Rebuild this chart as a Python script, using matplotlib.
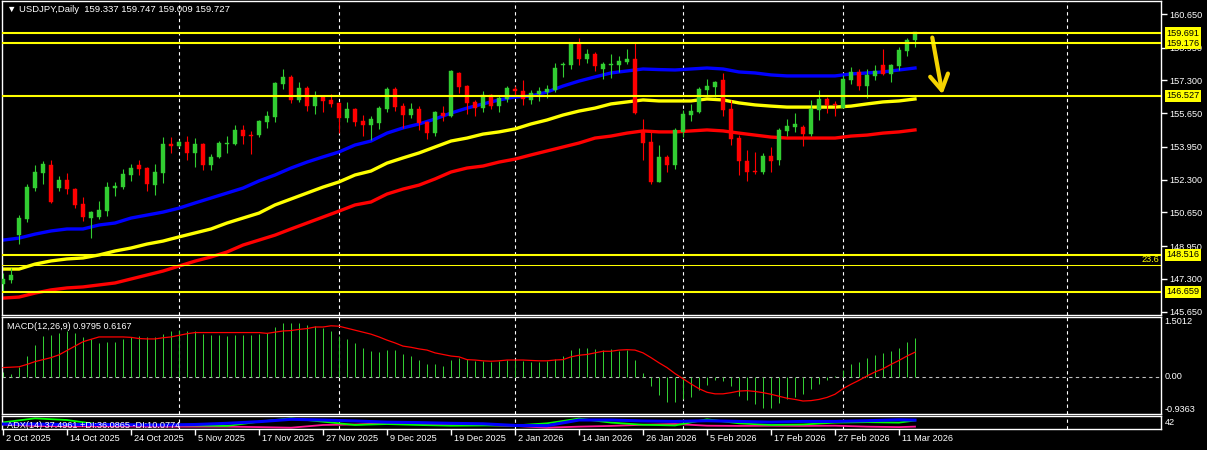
import numpy as np
import matplotlib
matplotlib.use('Agg')
import matplotlib.pyplot as plt
from matplotlib.transforms import blended_transform_factory

plt.rcParams['font.family'] = ['Liberation Sans', 'DejaVu Sans']

# daily candles, 2 Oct 2025 .. 13 Mar 2026
OPEN = [147.05, 147.25, 149.52, 150.32, 151.88, 152.64, 153.04, 151.88, 152.29, 151.83,
        151.08, 150.37, 150.42, 150.72, 151.88, 151.93, 152.54, 153.04, 152.89, 152.03,
        152.64, 154.10, 154.00, 154.20, 153.65, 154.10, 153.04, 153.45, 154.10, 154.10,
        154.80, 154.55, 154.55, 155.21, 155.46, 157.12, 157.48, 156.32, 156.92, 156.01,
        156.47, 156.32, 156.17, 155.41, 155.86, 155.26, 155.06, 155.16, 155.86, 156.87,
        156.01, 155.56, 155.86, 155.21, 154.65, 155.66, 155.51, 157.68, 157.02, 156.22,
        155.91, 156.57, 156.01, 156.37, 156.87, 156.77, 156.32, 156.62, 156.72, 156.82,
        158.08, 158.08, 159.14, 158.38, 158.63, 157.88, 158.08, 158.08, 158.23, 158.38,
        154.75, 154.20, 152.19, 153.45, 153.04, 154.70, 155.56, 155.71, 156.82, 156.97,
        157.32, 155.86, 154.40, 153.24, 152.74, 152.69, 153.50, 153.29, 154.75, 154.96,
        154.96, 154.60, 155.81, 156.37, 156.11, 155.91, 157.32, 157.73, 157.02, 157.53,
        158.08, 157.63, 158.03, 158.79, 159.337]
HIGH = [147.60, 147.85, 150.52, 152.08, 153.04, 153.24, 153.29, 152.49, 152.64, 151.88,
        151.43, 150.72, 151.23, 152.19, 152.19, 152.84, 153.09, 153.29, 152.94, 153.09,
        154.45, 154.45, 154.30, 154.50, 154.40, 154.15, 153.60, 154.25, 154.50, 155.06,
        155.06, 154.75, 155.31, 155.76, 157.22, 157.88, 157.58, 157.22, 157.02, 156.77,
        156.52, 156.62, 156.22, 156.22, 155.91, 155.56, 155.51, 156.01, 156.97, 156.97,
        156.17, 156.17, 156.01, 155.26, 155.76, 156.01, 157.83, 157.73, 157.07, 156.32,
        156.77, 156.62, 156.57, 157.02, 157.02, 157.32, 156.82, 156.97, 157.07, 158.18,
        158.23, 159.19, 159.44, 158.89, 158.74, 158.23, 158.63, 158.53, 158.89, 159.24,
        155.36, 154.75, 154.05, 153.55, 154.91, 155.81, 156.11, 156.97, 157.38, 157.27,
        157.68, 156.32, 154.55, 153.80, 153.70, 153.65, 153.95, 154.91, 155.36, 155.66,
        155.06, 156.32, 156.82, 156.47, 156.27, 157.58, 157.98, 157.88, 157.88, 158.08,
        158.89, 158.13, 158.99, 159.44, 159.747]
LOW = [146.64, 147.10, 149.06, 150.17, 151.73, 152.08, 151.13, 151.73, 151.58, 150.88,
       150.22, 149.36, 150.32, 150.47, 151.48, 151.83, 152.24, 152.54, 151.73, 151.53,
       152.14, 153.65, 153.95, 153.29, 152.94, 152.79, 152.79, 153.40, 153.65, 154.05,
       154.10, 153.60, 154.45, 154.91, 155.21, 156.87, 156.17, 156.22, 155.76, 155.61,
       155.71, 155.96, 154.65, 155.21, 155.01, 154.50, 154.30, 154.86, 155.71, 155.76,
       154.91, 155.41, 154.80, 154.35, 154.50, 155.26, 155.46, 156.67, 155.61, 155.51,
       155.71, 155.86, 155.71, 156.22, 156.52, 156.07, 156.11, 156.27, 156.42, 156.72,
       157.48, 157.88, 158.08, 158.18, 157.78, 157.38, 157.42, 157.73, 158.13, 155.61,
       153.29, 152.08, 152.19, 152.69, 152.84, 154.45, 155.26, 155.66, 156.52, 156.47,
       155.51, 154.05, 152.54, 152.24, 152.59, 152.59, 152.69, 153.04, 154.50, 154.70,
       154.00, 154.50, 155.31, 155.66, 155.51, 155.91, 157.12, 156.82, 156.42, 157.32,
       157.58, 157.22, 157.83, 158.53, 159.009]
CLOSE = [147.30, 147.50, 150.37, 151.93, 152.69, 153.09, 151.18, 152.29, 151.83, 151.03,
         150.42, 150.67, 150.77, 151.93, 151.98, 152.59, 152.89, 152.84, 152.08, 152.69,
         154.10, 154.00, 154.20, 153.65, 154.10, 153.04, 153.45, 154.15, 154.15, 154.80,
         154.50, 154.50, 155.26, 155.51, 157.17, 157.48, 156.32, 156.92, 156.01, 156.47,
         156.27, 156.11, 155.41, 155.86, 155.21, 155.06, 155.36, 155.91, 156.87, 155.96,
         155.56, 155.86, 155.16, 154.65, 155.71, 155.51, 157.78, 156.97, 156.17, 155.91,
         156.57, 156.01, 156.42, 156.92, 156.77, 156.37, 156.67, 156.77, 156.87, 157.93,
         158.13, 159.14, 158.38, 158.63, 158.03, 158.13, 158.13, 158.28, 158.38, 155.66,
         154.15, 152.19, 153.45, 153.04, 154.80, 155.61, 155.76, 156.87, 157.02, 157.22,
         155.81, 154.35, 153.24, 152.69, 152.69, 153.50, 153.24, 154.80, 155.01, 155.11,
         154.60, 155.86, 156.37, 156.07, 156.07, 157.38, 157.73, 157.02, 157.58, 157.78,
         157.63, 158.08, 158.84, 159.34, 159.727]

# moving averages, read every second bar
MA_BLUE = [149.26, 149.36, 149.56, 149.72, 149.82, 149.82, 150.02, 150.12, 150.37, 150.52,
           150.67, 150.87, 151.13, 151.38, 151.63, 151.88, 152.24, 152.54, 152.89, 153.19,
           153.45, 153.70, 154.05, 154.25, 154.65, 154.91, 155.11, 155.36, 155.66, 155.91,
           156.12, 156.32, 156.47, 156.52, 156.72, 157.02, 157.27, 157.48, 157.68, 157.78,
           157.88, 157.85, 157.83, 157.88, 157.93, 157.88, 157.73, 157.68, 157.58, 157.53,
           157.53, 157.53, 157.53, 157.63, 157.68, 157.73, 157.83, 157.93]
MA_YELLOW = [147.80, 147.80, 148.05, 148.21, 148.31, 148.36, 148.51, 148.71, 148.86, 149.06,
             149.21, 149.42, 149.62, 149.82, 150.12, 150.37, 150.62, 151.03, 151.33, 151.63,
             151.93, 152.19, 152.54, 152.74, 153.14, 153.40, 153.65, 153.95, 154.25, 154.40,
             154.60, 154.71, 154.86, 155.11, 155.31, 155.56, 155.76, 155.91, 156.12, 156.22,
             156.32, 156.27, 156.27, 156.27, 156.37, 156.32, 156.17, 156.07, 156.01, 155.96,
             155.96, 155.96, 155.96, 156.01, 156.12, 156.22, 156.27, 156.37]
MA_RED = [146.34, 146.39, 146.59, 146.75, 146.85, 146.90, 147.00, 147.10, 147.30, 147.50,
          147.70, 147.95, 148.20, 148.41, 148.66, 149.01, 149.26, 149.51, 149.82, 150.12,
          150.42, 150.72, 151.03, 151.18, 151.58, 151.83, 152.03, 152.34, 152.69, 152.89,
          152.99, 153.19, 153.34, 153.55, 153.75, 153.95, 154.15, 154.40, 154.50, 154.65,
          154.76, 154.71, 154.71, 154.76, 154.81, 154.76, 154.65, 154.55, 154.45, 154.40,
          154.40, 154.40, 154.40, 154.50, 154.55, 154.65, 154.71, 154.81]

MACD_HIST = [0.12, 0.06, 0.24, 0.51, 0.79, 1.02, 1.05, 1.11, 1.14, 1.10,
             0.99, 0.95, 0.84, 0.87, 0.87, 0.94, 1.01, 1.03, 1.01, 0.99,
             1.08, 1.14, 1.18, 1.16, 1.16, 1.07, 1.04, 1.04, 1.02, 1.04,
             1.04, 1.06, 1.07, 1.09, 1.24, 1.34, 1.34, 1.36, 1.30, 1.27,
             1.22, 1.14, 1.02, 0.94, 0.84, 0.72, 0.64, 0.63, 0.66, 0.66,
             0.56, 0.51, 0.43, 0.31, 0.31, 0.28, 0.43, 0.48, 0.45, 0.39,
             0.39, 0.37, 0.39, 0.42, 0.42, 0.39, 0.38, 0.37, 0.39, 0.45,
             0.52, 0.66, 0.71, 0.73, 0.70, 0.66, 0.69, 0.64, 0.66, 0.41,
             0.10, -0.24, -0.46, -0.63, -0.63, -0.57, -0.50, -0.34, -0.21, -0.08,
             -0.11, -0.24, -0.49, -0.59, -0.68, -0.78, -0.78, -0.67, -0.57, -0.50,
             -0.44, -0.32, -0.17, -0.07, 0.02, 0.16, 0.31, 0.37, 0.46, 0.54,
             0.60, 0.64, 0.73, 0.87, 0.9795]
MACD_SIGNAL = [0.23, 0.24, 0.25, 0.31, 0.38, 0.43, 0.48, 0.55, 0.66, 0.77,
               0.88, 0.94, 1.00, 1.00, 1.00, 1.00, 0.99, 0.96, 0.95, 0.95,
               0.98, 1.00, 1.04, 1.08, 1.11, 1.11, 1.11, 1.11, 1.11, 1.11,
               1.11, 1.11, 1.11, 1.09, 1.12, 1.15, 1.16, 1.19, 1.21, 1.25,
               1.25, 1.28, 1.27, 1.22, 1.17, 1.12, 1.07, 1.00, 0.92, 0.85,
               0.77, 0.74, 0.70, 0.67, 0.60, 0.56, 0.52, 0.50, 0.43, 0.42,
               0.40, 0.39, 0.40, 0.42, 0.42, 0.42, 0.41, 0.40, 0.40, 0.42,
               0.43, 0.50, 0.54, 0.56, 0.60, 0.64, 0.64, 0.67, 0.68, 0.67,
               0.60, 0.48, 0.35, 0.23, 0.08, -0.05, -0.18, -0.30, -0.39, -0.43,
               -0.43, -0.40, -0.36, -0.35, -0.37, -0.40, -0.44, -0.49, -0.54, -0.57,
               -0.61, -0.60, -0.57, -0.52, -0.44, -0.30, -0.19, -0.09, 0.02, 0.12,
               0.20, 0.31, 0.41, 0.52, 0.6167]

# ADX(14), read every fourth bar plus the last one
ADX_MAIN = [21, 21, 19, 19, 18, 17, 19, 24, 31, 41, 38, 34, 29, 27, 24,
            22, 15, 14, 38, 38, 34, 32, 35, 32, 29, 32, 32, 35, 39, 37.4961]
PLUS_DI = [28, 45, 38, 19, 17, 17, 15, 13, 31, 45, 31, 17, 21, 17, 14,
           15, 15, 24, 44, 27, 18, 15, 41, 24, 17, 19, 27, 29, 27, 36.0865]
MINUS_DI = [19, 13, 11, 11, 11, 10, 10, 10, 8, 5.5, 17, 19, 24, 21, 19,
            17, 13, 5.5, 10, 13, 18, 21, 14, 13, 14, 13, 14, 10, 8, 10.0774]

LEVELS = [159.691, 159.176, 156.527, 148.516, 146.659]
FIB_236 = 148.00
PRICE_TICKS = [160.650, 158.950, 157.300, 155.650, 153.950, 152.300, 150.650, 148.950, 147.300, 145.650]
DATE_LABELS = ['2 Oct 2025', '14 Oct 2025', '24 Oct 2025', '5 Nov 2025', '17 Nov 2025',
               '27 Nov 2025', '9 Dec 2025', '19 Dec 2025', '2 Jan 2026', '14 Jan 2026',
               '26 Jan 2026', '5 Feb 2026', '17 Feb 2026', '27 Feb 2026', '11 Mar 2026']
GRID_BARS = [22, 42, 64, 85, 105, 133]

GREEN = '#32cd32'
RED = '#ff0000'
YELLOW = '#ffff00'
FS = 6.6

W, H = 1207, 450
fig = plt.figure(figsize=(W / 100, H / 100), dpi=100, facecolor='black')


def panel(top, bottom):
    return fig.add_axes([2 / W, 1 - bottom / H, 1159 / W, (bottom - top) / H])


ax = panel(1, 315)
macd = panel(317, 414)
adx = panel(416, 429)

for a in (ax, macd, adx):
    a.set_facecolor('black')
    for s in a.spines.values():
        s.set_color('white')
        s.set_linewidth(1)
    a.set_xlim(-0.125, 144.75)
    a.set_xticks([])
    a.set_yticks([])
    for g in GRID_BARS:
        a.axvline(g, color='white', lw=0.8, ls=(0, (3, 3)), zorder=0.5)

# ---- price panel
o, h, l, c = map(np.array, (OPEN, HIGH, LOW, CLOSE))
x = np.arange(len(o))
col = np.where(c >= o, GREEN, RED)
ax.vlines(x, l, h, colors=col, lw=0.8, zorder=3)
ax.bar(x, np.maximum(np.abs(c - o), 0.03), bottom=np.minimum(o, c), width=0.62,
       color=col, edgecolor=col, lw=0.3, zorder=3)

xm = np.arange(0, len(o), 2)
ax.plot(xm, MA_RED, color=RED, lw=2.4, zorder=2)
ax.plot(xm, MA_YELLOW, color=YELLOW, lw=2.4, zorder=2)
ax.plot(xm, MA_BLUE, color='#0000ff', lw=2.4, zorder=2)

for lv in LEVELS:
    ax.axhline(lv, color=YELLOW, lw=1.5, zorder=4)
ax.axhline(FIB_236, color=YELLOW, lw=0.75, zorder=4)
ax.text(0.9983, FIB_236 + 0.08, '23.6', color=YELLOW, fontsize=FS, ha='right', va='bottom',
        transform=blended_transform_factory(ax.transAxes, ax.transData))

ax.set_ylim(145.486, 161.305)
ax.yaxis.tick_right()
ax.set_yticks(PRICE_TICKS)
ax.set_yticklabels(['%.3f' % p for p in PRICE_TICKS])
ax.tick_params(axis='y', colors='white', length=4, width=1, labelsize=FS, pad=2)

tr = blended_transform_factory(ax.transAxes, ax.transData)
for lv in LEVELS:
    ax.text(1.0045, lv, '%.3f' % lv, transform=tr, color='black', fontsize=FS,
            ha='left', va='center', zorder=6, clip_on=False,
            bbox=dict(boxstyle='square,pad=0.18', fc=YELLOW, ec='none'))

ax.annotate('', xy=(117.5, 156.47), xytext=(116.1, 159.6),
            arrowprops=dict(arrowstyle='->,head_length=1.1,head_width=0.65',
                            color='#f5d300', lw=3))

fig.text(7 / W, 1 - 10 / H, '\u25bc USDJPY,Daily  159.337 159.747 159.009 159.727',
         color='white', fontsize=6.8, va='center', ha='left')

# ---- MACD panel
macd.set_ylim(-0.9363, 1.5012)
macd.axhline(0, color='#c0c0c0', lw=0.8, ls=(0, (3, 3)), zorder=1)
macd.vlines(x, 0, MACD_HIST, colors=GREEN, lw=0.72, zorder=2, snap=True)
macd.plot(x, MACD_SIGNAL, color=RED, lw=0.9, zorder=3)
macd.text(5 / 1159, 0.907, 'MACD(12,26,9) 0.9795 0.6167', color='white', fontsize=FS,
          transform=macd.transAxes, va='center', ha='left')
trm = blended_transform_factory(macd.transAxes, macd.transData)
macd.text(1.003, 1.5012, '1.5012', transform=trm, color='white', fontsize=FS,
          va='top', ha='left', clip_on=False)
macd.text(1.003, 0, '0.00', transform=trm, color='white', fontsize=FS,
          va='center', ha='left', clip_on=False)
macd.text(1.003, -0.9363, '-0.9363', transform=trm, color='white', fontsize=FS,
          va='bottom', ha='left', clip_on=False)

# ---- ADX panel
adx.set_ylim(0, 55)
xa = list(range(0, 113, 4)) + [114]
adx.plot(xa, MINUS_DI, color='#ff1493', lw=1.3, zorder=2)
adx.plot(xa, PLUS_DI, color='#00ff00', lw=1.3, zorder=2)
adx.plot(xa, ADX_MAIN, color='#0000ff', lw=2.2, zorder=3)
adx.text(5 / 1159, 0.3, 'ADX(14) 37.4961 +DI:36.0865 -DI:10.0774', color='white',
         fontsize=FS, transform=adx.transAxes, va='center', ha='left', zorder=5)
adx.text(1.003, 0.5, '42', color='white', fontsize=FS, transform=adx.transAxes,
         va='center', ha='left')

date_pos = [8 * k for k in range(len(DATE_LABELS))]
adx.set_xticks(date_pos)
adx.tick_params(axis='x', colors='white', length=4, width=1, labelbottom=False)
trd = blended_transform_factory(adx.transData, adx.transAxes)
for p, lab in zip(date_pos, DATE_LABELS):
    adx.text(p + 0.35, -0.7, lab, transform=trd, color='white', fontsize=FS,
             ha='left', va='center', clip_on=False)

fig.savefig('out.png', dpi=100, facecolor='black')
